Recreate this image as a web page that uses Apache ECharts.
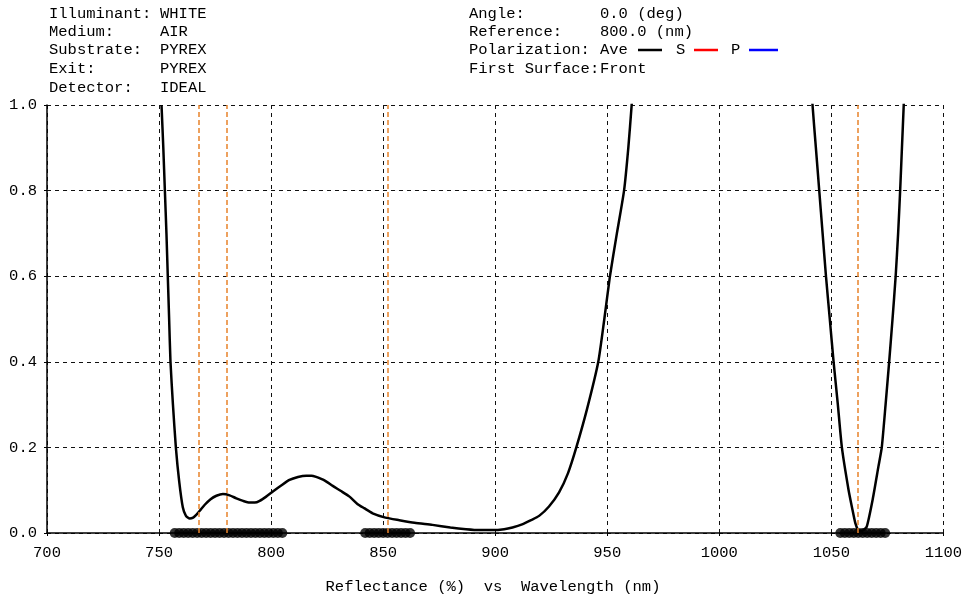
<!DOCTYPE html>
<html>
<head>
<meta charset="utf-8">
<script src="https://cdn.jsdelivr.net/npm/echarts@6/dist/echarts.min.js"></script>
<style>
html,body{margin:0;padding:0;background:#fff;}
#chart{width:965px;height:598px;}
</style>
</head>
<body>
<div id="chart"></div>
<script>
// Reflectance curve (wavelength nm, reflectance)
const wavelengths = [751.1,751.9,752.6,753.3,753.9,754.5,755.1,756.2,757.5,759.0,760.6,762.0,763.7,765.2,766.7,768.5,770.4,773.0,775.6,778.5,781.5,784.5,787.5,790.4,792.7,794.9,797.8,800.8,804.5,808.2,812.0,815.7,818.0,820.1,823.8,827.5,831.2,835.0,838.5,841.5,845.3,851.0,857.2,864.0,872.0,880.0,887.0,893.0,898.8,904.0,907.7,912.0,916.0,919.6,924.0,928.5,932.5,936.2,941.0,946.0,948.7,951.2,954.3,957.5,959.4,960.9,961.5,
  null,
  1041.2,1041.6,1043.1,1044.6,1046.1,1047.6,1049.3,1051.0,1052.9,1054.7,1057.7,1059.4,1060.7,1062.1,1062.8,1064.0,1065.8,1068.5,1071.0,1072.5,1074.2,1075.8,1077.3,1078.7,1079.8,1080.7,1081.5,1082.3,1082.6];
const reflectance = [1.0,0.9,0.8,0.7,0.6,0.5,0.4,0.3,0.2,0.12,0.06,0.040,0.034,0.036,0.043,0.054,0.066,0.079,0.087,0.091,0.088,0.081,0.075,0.071,0.071,0.075,0.085,0.097,0.111,0.124,0.131,0.134,0.134,0.131,0.123,0.110,0.098,0.085,0.068,0.058,0.046,0.036,0.030,0.024,0.019,0.013,0.009,0.007,0.007,0.009,0.013,0.020,0.030,0.040,0.062,0.095,0.140,0.200,0.290,0.400,0.500,0.600,0.700,0.800,0.900,1.000,1.05,
  null,
  1.05,1.0,0.9,0.8,0.7,0.6,0.5,0.4,0.3,0.2,0.1,0.055,0.023,0.005,0.004,0.006,0.015,0.08,0.155,0.2,0.3,0.4,0.5,0.6,0.7,0.8,0.9,1.0,1.05];

// Target points shown along the bottom
const targetsA = [757,759,761,763,765,767,769,771,773,775,777,779,781,783,785,787,789,791,793,795,797,799,801,803,805];
const targetsB = [842,844,846,848,850,852,854,856,858,860,862];
const targetsC = [1054,1056,1058,1060,1062,1064,1066,1068,1070,1072,1074];

// Orange reference wavelengths
const refLines = [767.7, 780.0, 852.0, 1061.7];

// Axis ticks
const xMin = 700, xMax = 1100, xStep = 50;
const yMin = 0, yMax = 1, yStep = 0.2;

// Header text
const headerLeftKeys = ['Illuminant:','Medium:','Substrate:','Exit:','Detector:'];
const headerLeftVals = ['WHITE','AIR','PYREX','PYREX','IDEAL'];
const headerRightKeys = ['Angle:','Reference:','Polarization:','First Surface:'];
const headerRightVals = ['0.0 (deg)','800.0 (nm)','Ave','Front'];
const xTitle = 'Reflectance (%)  vs  Wavelength (nm)';

const FONT = '"Liberation Mono","Courier New",monospace';
const FS = 15.5;
const F = FS + 'px ' + FONT;
const curve = wavelengths.map((w,i)=> w===null ? [null,null] : [w, reflectance[i]]);
const pts = arr => arr.map(w=>[w,0]);

const graphics = [];
const rowY = [14,32,50,69,88];
const txt = (x,y,s,extra) => Object.assign({type:'text',x:x,y:y,style:Object.assign({text:s,font:F,fill:'#000',textVerticalAlign:'middle'},extra||{})});
headerLeftKeys.forEach((k,i)=>{
  graphics.push(txt(49,rowY[i],k));
  graphics.push(txt(160,rowY[i],headerLeftVals[i]));
});
headerRightKeys.forEach((k,i)=>{
  graphics.push(txt(469,rowY[i],k));
  graphics.push(txt(600,rowY[i],headerRightVals[i]));
});
graphics.push({type:'line',shape:{x1:638,y1:50,x2:662,y2:50},style:{stroke:'#000',lineWidth:2.5}});
graphics.push(txt(676,rowY[2],'S'));
graphics.push({type:'line',shape:{x1:694,y1:50,x2:718,y2:50},style:{stroke:'#ff0000',lineWidth:2.5}});
graphics.push(txt(731,rowY[2],'P'));
graphics.push({type:'line',shape:{x1:749,y1:50,x2:778,y2:50},style:{stroke:'#0000ff',lineWidth:2.5}});
graphics.push(txt(493,587,xTitle,{textAlign:'center'}));

const chart = echarts.init(document.getElementById('chart'), null, {renderer:'canvas'});
chart.setOption({
  animation:false,
  backgroundColor:'#fff',
  grid:{left:47,right:20,top:105,bottom:65,containLabel:false},
  xAxis:{
    type:'value',min:xMin,max:xMax,interval:xStep,
    axisLine:{show:true,onZero:false,lineStyle:{color:'#000',width:1.5}},
    axisTick:{show:true,length:3,lineStyle:{color:'#000'}},
    axisLabel:{margin:12,color:'#000',fontFamily:FONT,fontSize:FS,formatter:v=>String(v)},
    splitLine:{show:true,lineStyle:{color:'#111',type:[4,4],width:1}}
  },
  yAxis:{
    type:'value',min:yMin,max:yMax,interval:yStep,
    axisLine:{show:true,onZero:false,lineStyle:{color:'#000',width:1.5}},
    axisTick:{show:true,length:3,lineStyle:{color:'#000'}},
    axisLabel:{margin:10,color:'#000',fontFamily:FONT,fontSize:FS,formatter:v=>v.toFixed(1)},
    splitLine:{show:true,lineStyle:{color:'#111',type:[4,4],width:1}}
  },
  graphic:graphics,
  series:[
    {type:'scatter',data:pts(targetsA),symbol:'circle',symbolSize:10,itemStyle:{color:'#000'},clip:true,silent:true,z:2},
    {type:'scatter',data:pts(targetsB),symbol:'circle',symbolSize:10,itemStyle:{color:'#000'},clip:true,silent:true,z:2},
    {type:'scatter',data:pts(targetsC),symbol:'circle',symbolSize:10,itemStyle:{color:'#000'},clip:true,silent:true,z:2},
    {type:'line',data:curve,showSymbol:false,symbol:'none',connectNulls:false,clip:true,
     smooth:0.2,
     lineStyle:{color:'#000',width:2.5},z:4,
     markLine:{silent:true,symbol:['none','none'],label:{show:false},
       lineStyle:{color:'#E8822A',type:[5,3],width:1.5},
       data:refLines.map(v=>({xAxis:v}))}}
  ]
});
</script>
</body>
</html>
